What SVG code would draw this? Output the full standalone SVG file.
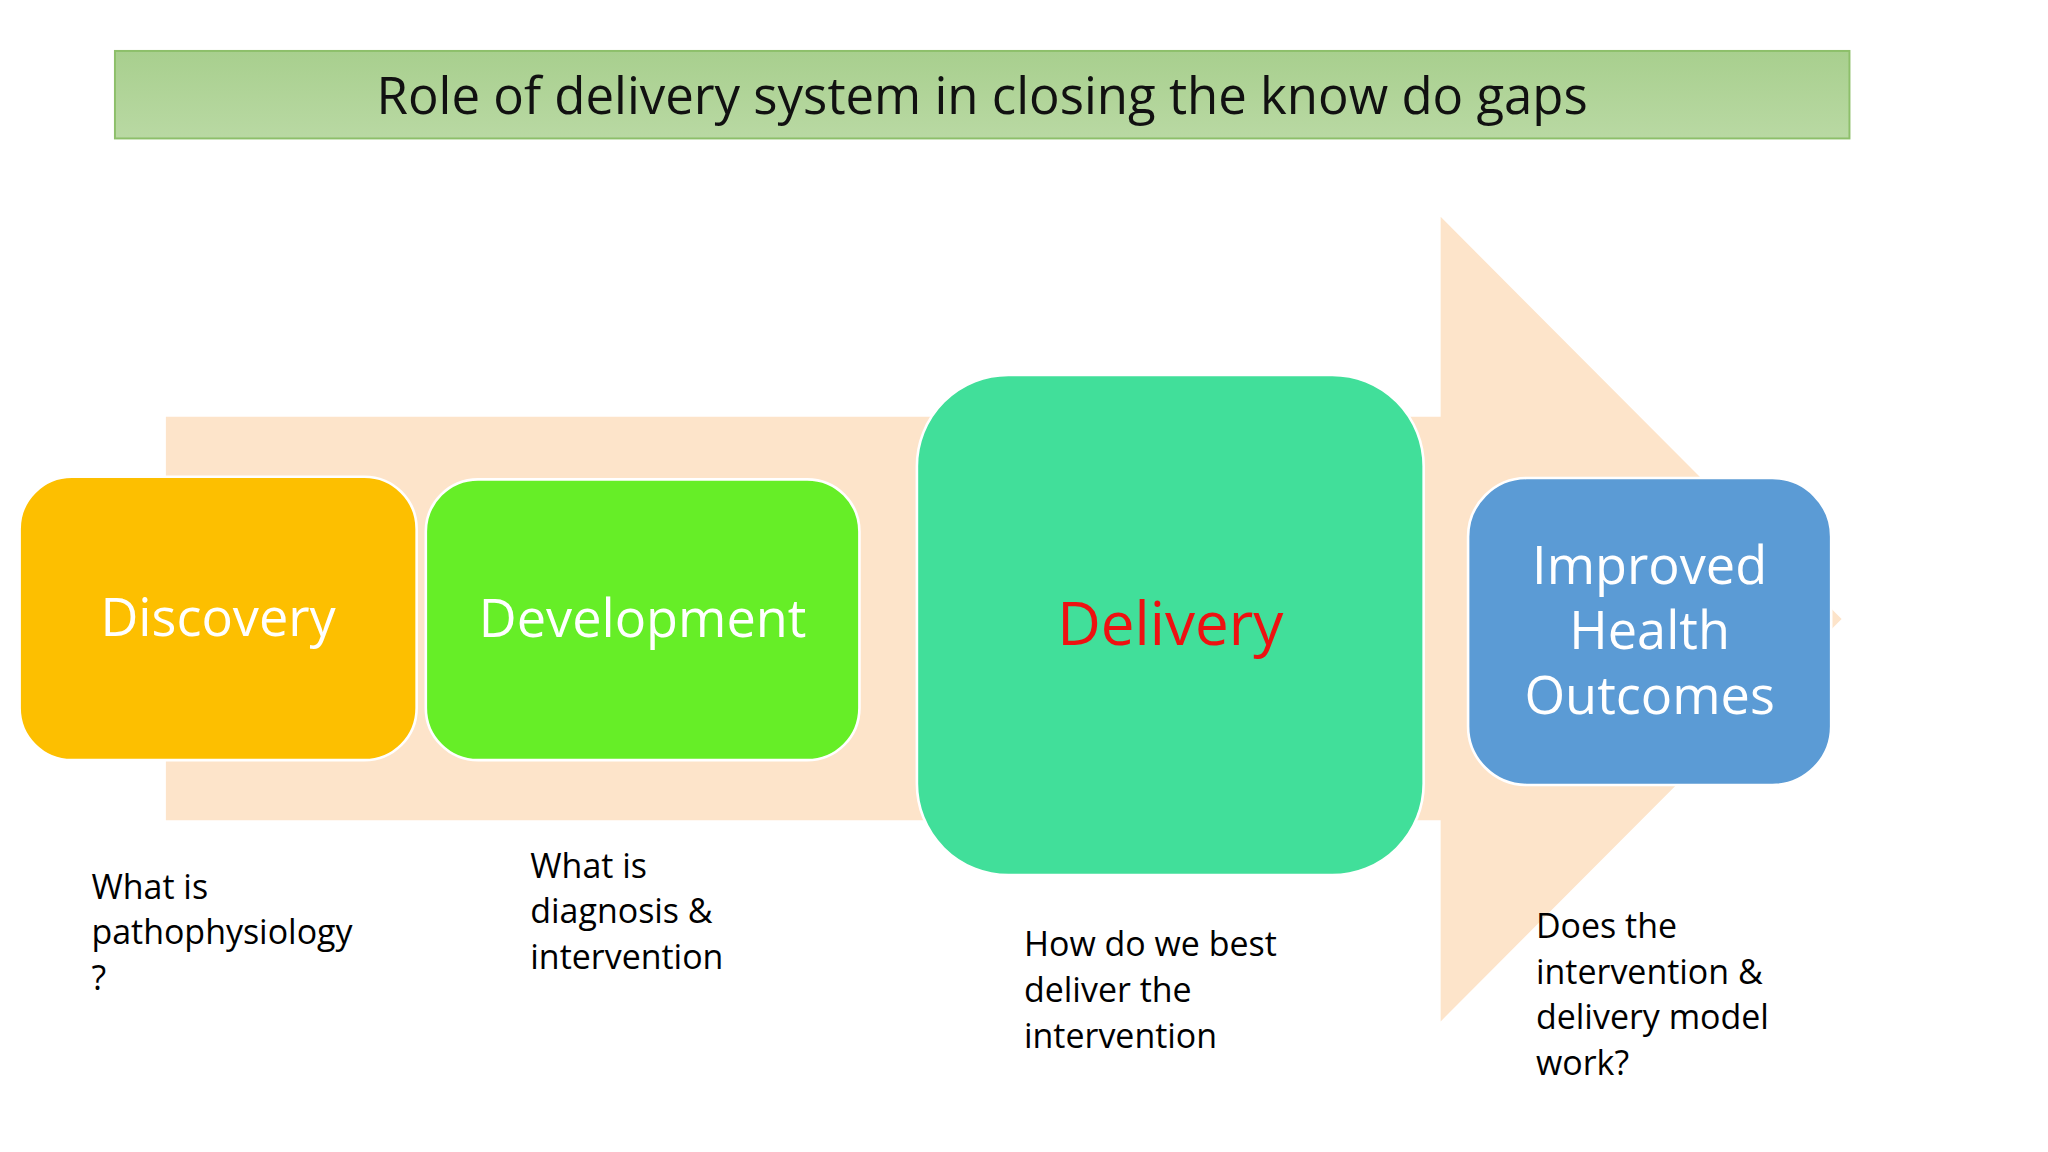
<svg xmlns="http://www.w3.org/2000/svg" width="2048" height="1152" viewBox="0 0 2048 1152">
<defs>
<linearGradient id="tg" x1="0" y1="0" x2="0" y2="1"><stop offset="0" stop-color="#a8cf8e"/><stop offset="1" stop-color="#b9d9a3"/></linearGradient>
<style>
.t{font-family:"Open Sans","Liberation Sans",sans-serif}
.n{fill:#fff;font-size:40px;text-anchor:middle}
.c{fill:#000;font-size:26px}
.box{stroke:#fff;stroke-width:2}
</style>
</defs>
<rect width="2048" height="1152" fill="#fff"/>
<g transform="scale(1.30612)">
<g id="title">
<rect x="88" y="39" width="1328" height="67" fill="url(#tg)" stroke="#8dbf6a" stroke-width="1.5"/>
<text class="t" x="752" y="87" font-size="39" text-anchor="middle" fill="#111">Role of delivery system in closing the know do gaps</text>
</g>
<g id="arrow">
<polygon points="127,319 1103,319 1103,166 1410,474 1103,782 1103,628 127,628" fill="#fde4ca"/>
</g>
<g id="discovery">
<rect class="box" x="15" y="365" width="304" height="217" rx="40" fill="#fdbf00"/>
<text class="t n" x="167" y="487">Discovery</text>
</g>
<g id="development">
<rect class="box" x="326" y="367" width="332" height="215" rx="40" fill="#66ee27"/>
<text class="t n" x="492" y="488">Development</text>
</g>
<g id="delivery">
<rect class="box" x="702" y="287" width="388" height="383" rx="70" fill="#41df9a"/>
<text class="t" x="896" y="494" font-size="46" text-anchor="middle" fill="#ee1111">Delivery</text>
</g>
<g id="outcomes">
<rect class="box" x="1124" y="366" width="278" height="235" rx="45" fill="#5b9bd5"/>
<text class="t n" x="1263" y="447">Improved</text>
<text class="t n" x="1263" y="497">Health</text>
<text class="t n" x="1263" y="547">Outcomes</text>
</g>
<g id="captions" class="t c">
<text class="t c" x="70" y="688">What is</text>
<text class="t c" x="70" y="723">pathophysiology</text>
<text class="t c" x="70" y="758">?</text>
<text class="t c" x="406" y="672">What is</text>
<text class="t c" x="406" y="707">diagnosis &amp;</text>
<text class="t c" x="406" y="742">intervention</text>
<text class="t c" x="784" y="732">How do we best</text>
<text class="t c" x="784" y="767">deliver the</text>
<text class="t c" x="784" y="802">intervention</text>
<text class="t c" x="1176" y="718">Does the</text>
<text class="t c" x="1176" y="753">intervention &amp;</text>
<text class="t c" x="1176" y="788">delivery model</text>
<text class="t c" x="1176" y="823">work?</text>
</g>
<g id="connectors"></g>
</g>
</svg>
